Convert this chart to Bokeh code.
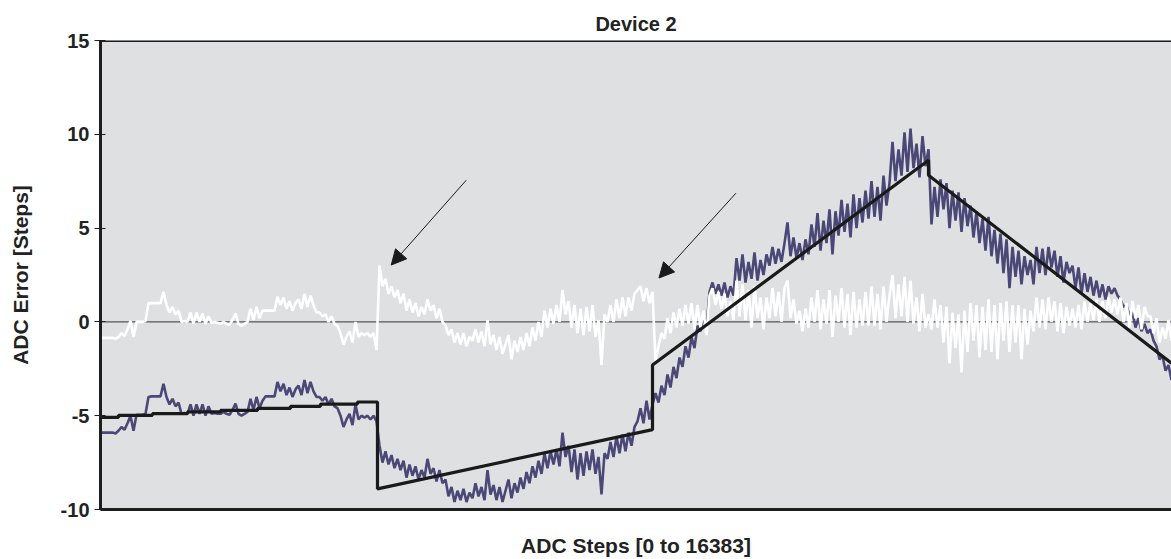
import numpy as np
from bokeh.plotting import figure
from bokeh.models import Range1d, FixedTicker, Span, Arrow, NormalHead, ColumnDataSource
from bokeh.embed import file_html
from bokeh.resources import INLINE

# ---- data ----
raw_error = [
    -5.9,-5.9,-5.9,-5.9,-5.9,-5.95,-5.8,-5.6,-5.75,-5.4,
    -5.0,-5.8,-4.95,-4.95,-4.95,-4.9,-4.0,-3.97,-3.97,-3.97,
    -3.97,-3.3,-4.0,-4.4,-4.1,-4.5,-4.3,-4.9,-4.85,-4.9,
    -4.4,-5.0,-4.4,-4.9,-4.4,-5.0,-4.5,-4.9,-4.85,-4.9,
    -4.9,-4.8,-4.9,-4.95,-4.7,-4.35,-4.9,-5.0,-4.9,-4.8,
    -4.1,-4.7,-4.0,-4.6,-4.2,-3.97,-3.97,-3.97,-3.97,-3.2,
    -3.7,-3.3,-3.9,-3.5,-4.0,-3.6,-3.4,-3.9,-3.1,-3.8,
    -3.2,-3.7,-4.0,-4.0,-4.2,-4.0,-4.4,-4.1,-4.5,-4.6,
    -5.0,-5.6,-5.2,-4.9,-5.5,-4.4,-5.2,-5.0,-5.1,-5.0,
    -5.2,-5.0,-5.3,-6.6,-7.5,-6.9,-7.6,-7.1,-7.8,-7.3,
    -7.9,-7.4,-8.3,-7.6,-8.2,-7.7,-8.4,-7.9,-8.3,-7.3,
    -8.1,-7.8,-8.5,-7.9,-8.6,-8.4,-9.3,-8.8,-9.6,-9.0,
    -9.5,-8.9,-9.6,-9.1,-9.4,-8.6,-9.3,-8.8,-9.5,-7.9,
    -9.2,-8.7,-9.5,-8.8,-9.6,-9.0,-8.4,-9.4,-8.6,-9.1,
    -8.3,-8.9,-8.0,-8.6,-7.7,-8.3,-7.4,-8.1,-7.0,-7.8,
    -6.9,-7.6,-6.8,-7.7,-5.9,-7.2,-6.6,-8.0,-6.8,-8.4,
    -7.0,-8.2,-6.9,-7.9,-6.8,-8.1,-7.2,-9.2,-7.0,-7.3,
    -6.4,-7.2,-6.1,-7.0,-6.0,-6.9,-5.9,-6.6,-5.6,-5.3,
    -4.6,-5.4,-4.2,-5.2,-4.4,-3.8,-4.3,-3.4,-3.9,-2.8,
    -3.5,-2.4,-3.0,-1.9,-2.4,-1.3,-1.9,-0.8,-1.4,-0.2,
    -0.5,0.3,-0.3,1.6,2.1,1.5,2.0,1.4,2.1,1.3,
    1.9,1.4,3.4,2.2,3.6,2.1,3.2,2.3,3.7,2.2,
    3.3,2.5,3.6,3.0,4.0,3.1,3.9,3.2,4.2,5.3,
    3.5,4.5,3.4,4.2,3.3,4.4,3.6,5.2,4.0,5.8,
    3.8,5.4,4.2,6.0,3.6,5.9,4.6,6.5,4.8,6.3,
    4.5,6.8,5.0,6.6,5.3,7.0,5.5,7.5,5.6,7.2,
    5.4,7.8,6.2,7.4,9.6,7.5,9.2,7.8,10.1,8.0,
    10.3,8.2,9.5,7.7,9.9,8.3,9.2,5.2,7.2,5.6,
    7.6,6.0,7.4,5.0,7.0,5.4,6.9,4.8,6.6,5.1,
    6.2,4.5,5.9,4.2,5.5,3.8,5.6,3.5,4.9,3.1,
    4.7,2.6,4.4,1.8,4.0,2.4,3.8,2.0,3.5,2.5,
    3.3,2.0,4.0,2.6,3.9,2.5,4.0,2.9,3.8,2.4,
    3.5,2.1,3.2,2.6,3.0,1.8,2.9,1.5,2.6,1.6,
    2.4,1.4,2.2,1.3,2.0,1.2,1.9,1.5,1.8,1.4,
    1.2,0.8,0.9,0.3,0.5,-0.3,0.2,-0.5,-0.1,-0.6,
    -0.4,-1.0,-1.3,-2.0,-1.8,-2.6,-2.3,-3.1,
]

corrected_error = [
    -0.85,-0.85,-0.85,-0.85,-0.85,-0.9,-0.8,-0.6,-0.75,-0.4,
    0.05,-0.8,0.0,0.0,0.0,0.05,1.0,1.0,1.0,1.0,
    1.0,1.6,0.9,0.5,0.8,0.4,0.6,0.0,0.05,0.0,
    0.5,-0.1,0.5,0.0,0.45,-0.1,0.3,-0.05,0.0,-0.05,
    -0.1,0.0,-0.1,-0.15,0.1,0.45,-0.1,-0.2,-0.1,0.0,
    0.7,0.1,0.8,0.2,0.6,0.6,0.6,0.6,0.6,1.35,
    0.9,1.3,0.7,1.1,0.6,1.0,1.2,0.7,1.5,0.8,
    1.4,0.9,0.5,0.5,0.3,0.4,0.0,0.3,-0.1,-0.2,
    -0.6,-1.2,-0.8,-0.5,-1.1,0.0,-0.8,-0.6,-0.7,-0.6,
    -0.8,-0.6,-1.5,3.0,1.9,2.3,1.5,1.9,1.3,1.7,
    1.0,1.5,0.6,1.2,0.5,1.0,0.3,0.8,0.4,1.2,
    0.6,0.9,0.2,0.7,0.0,-0.2,-0.7,-0.4,-1.1,-0.6,
    -1.2,-0.6,-1.3,-0.8,-1.0,-0.4,-1.1,-0.5,-1.3,0.1,
    -1.2,-0.7,-1.5,-0.8,-1.7,-1.2,-0.7,-2.0,-1.0,-1.6,
    -0.8,-1.5,-0.6,-1.3,-0.3,-1.0,0.0,-0.8,0.6,-0.3,
    0.7,-0.1,0.9,0.0,1.7,0.4,1.1,-0.3,0.9,-0.6,
    0.7,-0.7,0.8,-0.5,0.9,-0.8,0.1,-2.3,0.4,0.0,
    0.9,0.0,1.2,0.2,1.3,0.3,1.3,0.6,1.5,1.7,
    1.9,1.1,1.8,1.0,1.6,-2.1,-1.3,-0.6,-0.9,0.2,
    -0.6,0.5,-0.3,0.7,-0.2,0.9,-0.1,1.0,-0.4,0.9,
    -0.3,0.6,-0.7,1.4,1.8,0.9,1.6,0.7,1.5,0.3,
    1.1,0.1,2.2,0.3,2.0,0.1,1.7,-0.3,1.9,0.2,
    1.3,-0.4,1.3,0.2,1.8,0.3,1.6,0.0,1.8,2.2,
    0.2,1.2,-0.1,0.6,-0.5,0.7,-0.3,1.3,0.0,1.7,
    -0.4,1.2,-0.1,1.7,-0.8,1.4,0.0,1.8,-0.3,1.5,
    -0.7,1.6,-0.3,1.2,-0.2,1.6,-0.2,1.9,-0.2,1.5,
    -0.4,1.9,0.0,1.4,2.5,0.2,2.0,0.3,2.4,0.0,
    2.2,-0.1,1.3,-0.5,1.5,-0.3,0.4,-0.4,1.2,-0.3,
    0.9,-1.1,0.8,-2.2,0.5,-1.4,0.4,-2.7,0.6,-1.6,
    1.0,-1.0,0.9,-1.9,0.8,-1.5,1.2,-1.6,0.9,-2.0,
    1.0,-1.0,1.1,-1.6,0.9,-1.1,0.9,-2.0,0.7,-1.2,
    0.6,-0.5,1.3,-0.3,1.2,-0.4,1.3,0.0,1.1,-0.5,
    1.0,-0.6,0.8,-0.2,0.7,-0.3,0.9,-0.4,1.1,0.0,
    1.0,0.1,1.2,0.0,1.1,0.2,1.3,0.5,1.2,0.4,
    1.3,0.0,1.0,-0.3,1.1,0.2,0.9,-0.4,0.8,0.3,
    0.3,-0.6,0.2,-1.1,-0.3,-0.9,0.1,-1.0,
]

fit_x = [0, 275, 275, 795, 795, 1331, 1331, 1836, 1836, 2402, 2402, 2906, 2906,
         3365, 3365, 3931, 3931, 4237, 4237, 8444, 8444, 12666, 12666, 16383]
fit_y = [-5.09, -5.09, -4.98, -4.98, -4.89, -4.89, -4.8, -4.8, -4.72, -4.72, -4.61, -4.61, -4.5,
         -4.5, -4.38, -4.38, -4.27, -4.27, -8.9, -5.74, -2.3, 8.62, 7.82, -2.2]

arrow_x_start = [5594, 9720]
arrow_y_start = [7.55, 6.86]
arrow_x_end = [4447, 8543]
arrow_y_end = [3.03, 2.34]

y_ticks = [-10, -5, 0, 5, 10, 15]
y_tick_labels = ["-10", "-5", "0", "5", "10", "15"]

title_text = "Device 2"
x_label = "ADC Steps [0 to 16383]"
y_label = "ADC Error [Steps]"

steps = np.linspace(0, 16383, len(raw_error))

FONT = "Liberation Sans"

p = figure(width=1171, height=559, output_backend="svg", toolbar_location=None,
           x_range=Range1d(0, 16383), y_range=Range1d(-10, 15),
           min_border_left=100, min_border_right=0, min_border_top=40, min_border_bottom=48)

p.background_fill_color = "#dfe0e2"
p.border_fill_color = "white"
p.outline_line_color = None
p.grid.visible = False

p.title.text = title_text
p.title.align = "center"
p.title.vertical_align = "top"
p.title.text_font = FONT
p.title.text_font_style = "bold"
p.title.text_font_size = "20px"
p.title.text_color = "#222222"
p.title.standoff = 8

# zero line
p.add_layout(Span(location=0, dimension="width", line_color="#333333", line_width=1, level="underlay"))
# top border
p.add_layout(Span(location=15, dimension="width", line_color="#1e1e1e", line_width=3))

src = ColumnDataSource(dict(x=steps, raw=raw_error, cor=corrected_error))
p.line("x", "raw", source=src, line_color="#4a4876", line_width=2.6)
p.line("x", "cor", source=src, line_color="#ffffff", line_width=2.6)
p.line(fit_x, fit_y, line_color="#1a1a1a", line_width=3.2)

for xs, ys, xe, ye in zip(arrow_x_start, arrow_y_start, arrow_x_end, arrow_y_end):
    p.add_layout(Arrow(x_start=xs, y_start=ys, x_end=xe, y_end=ye, line_color="#1a1a1a", line_width=1,
                       end=NormalHead(size=15, fill_color="#1a1a1a", line_color="#1a1a1a")))

# axes
ya = p.yaxis[0]
ya.ticker = FixedTicker(ticks=y_ticks)
ya.major_label_overrides = {t: s for t, s in zip(y_ticks, y_tick_labels)}
ya.minor_tick_line_color = None
ya.major_tick_in = 5
ya.major_tick_out = 6
ya.major_tick_line_color = "#1e1e1e"
ya.axis_line_width = 3
ya.axis_line_color = "#1e1e1e"
ya.major_label_text_font = FONT
ya.major_label_text_font_style = "bold"
ya.major_label_text_font_size = "20px"
ya.major_label_text_color = "#222222"
ya.major_label_standoff = 5
ya.axis_label = y_label
ya.axis_label_text_font = FONT
ya.axis_label_text_font_style = "bold"
ya.axis_label_text_font_size = "21px"
ya.axis_label_text_color = "#222222"
ya.axis_label_standoff = 26

xa = p.xaxis[0]
xa.ticker = FixedTicker(ticks=[])
xa.major_label_text_font_size = "0px"
xa.major_tick_out = 0
xa.major_tick_in = 0
xa.minor_tick_line_color = None
xa.axis_line_width = 3
xa.axis_line_color = "#1e1e1e"
xa.axis_label = x_label
xa.axis_label_text_font = FONT
xa.axis_label_text_font_style = "bold"
xa.axis_label_text_font_size = "21px"
xa.axis_label_text_color = "#222222"
xa.axis_label_standoff = 24

open("out.html", "w").write(file_html(p, INLINE))
